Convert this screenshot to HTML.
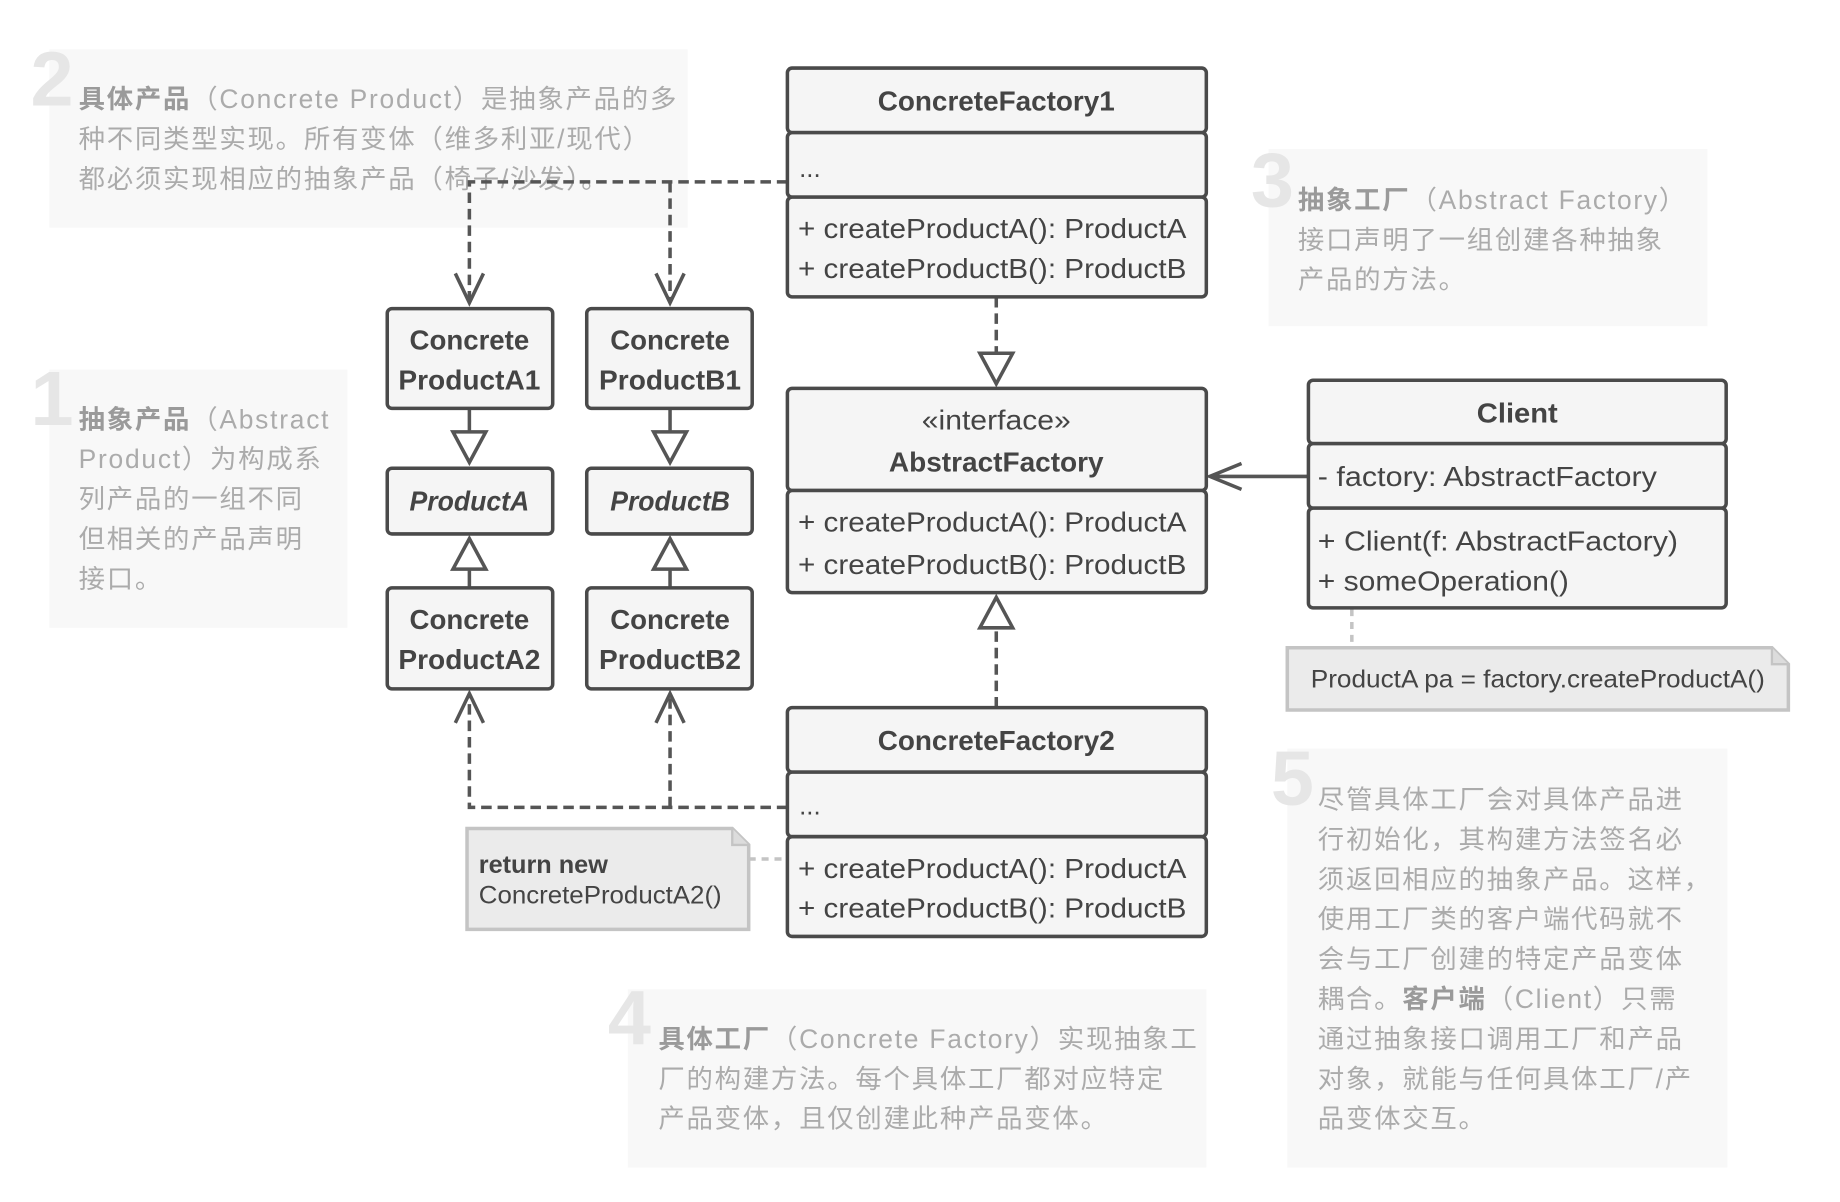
<!DOCTYPE html>
<html><head><meta charset="utf-8">
<style>
html,body{margin:0;padding:0;background:#fff;}
svg{display:block;}
.t{font-family:"Liberation Sans","Noto Sans CJK SC",sans-serif;fill:#444;}
.n{font-family:"Liberation Sans","Noto Sans CJK SC",sans-serif;fill:#ababab;font-size:22.5px;letter-spacing:1.5px;}
.nb{fill:#9a9a9a;font-weight:bold;}
.big{font-family:"Liberation Sans",sans-serif;font-weight:bold;fill:#e6e6e6;font-size:66px;}
.box{fill:#f5f5f5;stroke:#4a4a4a;stroke-width:3;}
.ln{stroke:#555;stroke-width:3;fill:none;}
.dl{stroke:#555;stroke-width:3;fill:none;stroke-dasharray:9,5;}
.tri{fill:#fff;stroke:#555;stroke-width:3;}
</style></head>
<body>
<svg width="1840" height="1202" viewBox="0 0 1568 1024.3" xmlns="http://www.w3.org/2000/svg">
<rect width="1568" height="1025" fill="#fff"/>

<rect x="42" y="42" width="544" height="152" fill="#f8f8f8"/>
<rect x="42" y="315" width="254" height="220" fill="#f8f8f8"/>
<rect x="1081" y="127" width="374" height="151" fill="#f8f8f8"/>
<rect x="535" y="843" width="493" height="152" fill="#f8f8f8"/>
<rect x="1097" y="638" width="375" height="357" fill="#f8f8f8"/>

<text class="big" x="26" y="90">2</text>
<text class="big" x="26" y="362">1</text>
<text class="big" x="1066" y="176">3</text>
<text class="big" x="518" y="890">4</text>
<text class="big" x="1083" y="686">5</text>

<g class="n">
<text x="67" y="92"><tspan class="nb">具体产品</tspan>（Concrete Product）是抽象产品的多</text>
<text x="67" y="126">种不同类型实现。所有变体（维多利亚/现代）</text>
<text x="67" y="160">都必须实现相应的抽象产品（椅子/沙发）。</text>

<text x="67" y="365"><tspan class="nb">抽象产品</tspan>（Abstract</text>
<text x="67" y="399">Product）为构成系</text>
<text x="67" y="433">列产品的一组不同</text>
<text x="67" y="467">但相关的产品声明</text>
<text x="67" y="501">接口。</text>

<text x="1106" y="178"><tspan class="nb">抽象工厂</tspan>（Abstract Factory）</text>
<text x="1106" y="212">接口声明了一组创建各种抽象</text>
<text x="1106" y="246">产品的方法。</text>

<text x="561" y="893"><tspan class="nb">具体工厂</tspan>（Concrete Factory）实现抽象工</text>
<text x="561" y="927">厂的构建方法。每个具体工厂都对应特定</text>
<text x="561" y="961">产品变体，且仅创建此种产品变体。</text>

<text x="1123" y="689">尽管具体工厂会对具体产品进</text>
<text x="1123" y="723">行初始化，其构建方法签名必</text>
<text x="1123" y="757">须返回相应的抽象产品。这样，</text>
<text x="1123" y="791">使用工厂类的客户端代码就不</text>
<text x="1123" y="825">会与工厂创建的特定产品变体</text>
<text x="1123" y="859">耦合。<tspan class="nb">客户端</tspan>（Client）只需</text>
<text x="1123" y="893">通过抽象接口调用工厂和产品</text>
<text x="1123" y="927">对象，就能与任何具体工厂/产</text>
<text x="1123" y="961">品变体交互。</text>
</g>

<path class="dl" d="M671 155 H400 V256"/>
<path class="dl" d="M571 155 V256"/>
<path class="ln" d="M388 233 L400 258 L412 233 M559 233 L571 258 L583 233"/>

<path class="ln" d="M400 348 V368 M571 348 V368 M400 485 V501 M571 485 V501"/>
<polygon class="tri" points="386,368 414,368 400,394"/>
<polygon class="tri" points="557,368 585,368 571,394"/>
<polygon class="tri" points="386,485 414,485 400,459"/>
<polygon class="tri" points="557,485 585,485 571,459"/>

<path class="dl" d="M849 253 V300"/>
<polygon class="tri" points="835,301 863,301 849,327"/>
<path class="dl" d="M849 603 V535"/>
<polygon class="tri" points="835,535 863,535 849,509"/>

<path class="ln" d="M1115 406 H1031 M1058 395 L1031 406 L1058 417"/>

<path class="dl" d="M671 688 H400 V593"/>
<path class="dl" d="M571 688 V593"/>
<path class="ln" d="M388 616 L400 591 L412 616 M559 616 L571 591 L583 616"/>

<path d="M638 732 H671" stroke="#c4c4c4" stroke-width="3" stroke-dasharray="6,5"/>
<path d="M1152 519 V552" stroke="#c4c4c4" stroke-width="3" stroke-dasharray="6,5"/>

<rect class="box" x="671" y="58" width="357" height="55" rx="4"/>
<rect class="box" x="671" y="113" width="357" height="55" rx="4"/>
<rect class="box" x="671" y="168" width="357" height="85" rx="4"/>
<text class="t" x="849" y="94" font-size="24" font-weight="bold" text-anchor="middle" textLength="202" lengthAdjust="spacingAndGlyphs">ConcreteFactory1</text>
<text class="t" x="681" y="151" font-size="22">...</text>
<text class="t" x="680" y="203" font-size="24" textLength="331" lengthAdjust="spacingAndGlyphs">+ createProductA(): ProductA</text>
<text class="t" x="680" y="237" font-size="24" textLength="331" lengthAdjust="spacingAndGlyphs">+ createProductB(): ProductB</text>

<rect class="box" x="671" y="331" width="357" height="87" rx="4"/>
<rect class="box" x="671" y="418" width="357" height="87" rx="4"/>
<text class="t" x="849" y="366" font-size="24" text-anchor="middle" textLength="127" lengthAdjust="spacingAndGlyphs">«interface»</text>
<text class="t" x="849" y="402" font-size="24" font-weight="bold" text-anchor="middle" textLength="183" lengthAdjust="spacingAndGlyphs">AbstractFactory</text>
<text class="t" x="680" y="453" font-size="24" textLength="331" lengthAdjust="spacingAndGlyphs">+ createProductA(): ProductA</text>
<text class="t" x="680" y="489" font-size="24" textLength="331" lengthAdjust="spacingAndGlyphs">+ createProductB(): ProductB</text>

<rect class="box" x="671" y="603" width="357" height="55" rx="4"/>
<rect class="box" x="671" y="658" width="357" height="55" rx="4"/>
<rect class="box" x="671" y="713" width="357" height="85" rx="4"/>
<text class="t" x="849" y="639" font-size="24" font-weight="bold" text-anchor="middle" textLength="202" lengthAdjust="spacingAndGlyphs">ConcreteFactory2</text>
<text class="t" x="681" y="694" font-size="22">...</text>
<text class="t" x="680" y="748" font-size="24" textLength="331" lengthAdjust="spacingAndGlyphs">+ createProductA(): ProductA</text>
<text class="t" x="680" y="782" font-size="24" textLength="331" lengthAdjust="spacingAndGlyphs">+ createProductB(): ProductB</text>

<rect class="box" x="1115" y="324" width="356" height="54" rx="4"/>
<rect class="box" x="1115" y="378" width="356" height="55" rx="4"/>
<rect class="box" x="1115" y="433" width="356" height="85" rx="4"/>
<text class="t" x="1293" y="360" font-size="24" font-weight="bold" text-anchor="middle" textLength="69" lengthAdjust="spacingAndGlyphs">Client</text>
<text class="t" x="1123" y="414" font-size="24" textLength="289" lengthAdjust="spacingAndGlyphs">- factory: AbstractFactory</text>
<text class="t" x="1123" y="469" font-size="24" textLength="307" lengthAdjust="spacingAndGlyphs">+ Client(f: AbstractFactory)</text>
<text class="t" x="1123" y="503" font-size="24" textLength="214" lengthAdjust="spacingAndGlyphs">+ someOperation()</text>

<rect class="box" x="330" y="263" width="141" height="85" rx="4"/>
<rect class="box" x="500" y="263" width="141" height="85" rx="4"/>
<rect class="box" x="330" y="399" width="141" height="56" rx="4"/>
<rect class="box" x="500" y="399" width="141" height="56" rx="4"/>
<rect class="box" x="330" y="501" width="141" height="86" rx="4"/>
<rect class="box" x="500" y="501" width="141" height="86" rx="4"/>
<g font-size="24" font-weight="bold" text-anchor="middle">
<text class="t" x="400" y="298" textLength="102" lengthAdjust="spacingAndGlyphs">Concrete</text>
<text class="t" x="400" y="332" textLength="121" lengthAdjust="spacingAndGlyphs">ProductA1</text>
<text class="t" x="571" y="298" textLength="102" lengthAdjust="spacingAndGlyphs">Concrete</text>
<text class="t" x="571" y="332" textLength="121" lengthAdjust="spacingAndGlyphs">ProductB1</text>
<text class="t" x="400" y="435" font-style="italic" textLength="102" lengthAdjust="spacingAndGlyphs">ProductA</text>
<text class="t" x="571" y="435" font-style="italic" textLength="102" lengthAdjust="spacingAndGlyphs">ProductB</text>
<text class="t" x="400" y="536" textLength="102" lengthAdjust="spacingAndGlyphs">Concrete</text>
<text class="t" x="400" y="570" textLength="121" lengthAdjust="spacingAndGlyphs">ProductA2</text>
<text class="t" x="571" y="536" textLength="102" lengthAdjust="spacingAndGlyphs">Concrete</text>
<text class="t" x="571" y="570" textLength="121" lengthAdjust="spacingAndGlyphs">ProductB2</text>
</g>

<path d="M398 706 H624 L638 720 V792 H398 Z" fill="#ebebeb" stroke="#c4c4c4" stroke-width="3"/>
<path d="M624 706 V720 H638" fill="#dcdcdc" stroke="#c4c4c4" stroke-width="2"/>
<text class="t" x="408" y="744" font-size="21" font-weight="bold" textLength="110" lengthAdjust="spacingAndGlyphs">return new</text>
<text class="t" x="408" y="770" font-size="21" textLength="207" lengthAdjust="spacingAndGlyphs">ConcreteProductA2()</text>

<path d="M1097 552 H1510 L1524 566 V605 H1097 Z" fill="#ebebeb" stroke="#c4c4c4" stroke-width="3"/>
<path d="M1510 552 V566 H1524" fill="#dcdcdc" stroke="#c4c4c4" stroke-width="2"/>
<text class="t" x="1117" y="586" font-size="21" textLength="387" lengthAdjust="spacingAndGlyphs">ProductA pa = factory.createProductA()</text>
</svg>
</body></html>
